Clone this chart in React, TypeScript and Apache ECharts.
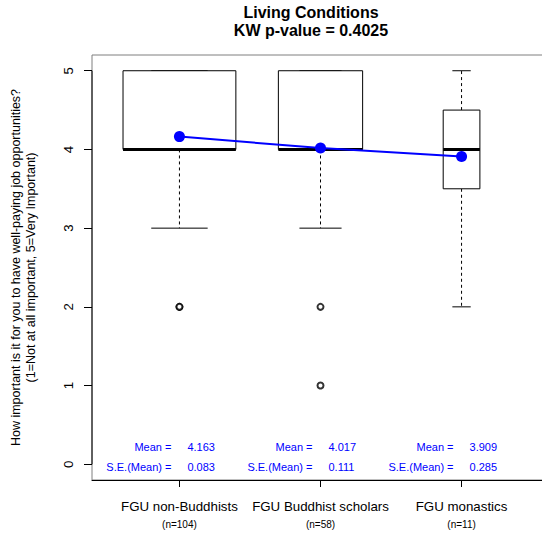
import React, { useEffect, useRef } from "react";
import * as echarts from "echarts";

const categories = ["FGU non-Buddhists", "FGU Buddhist scholars", "FGU monastics"];
const counts = [104, 58, 11];
const lowWhisker = [3, 3, 2];
const q1 = [4, 4, 3.5];
const medians = [4, 4, 4];
const q3 = [5, 5, 4.5];
const highWhisker = [5, 5, 5];
const outliers = [[2, 2], [2, 1], []];
const means = [4.163, 4.017, 3.909];
const seMeans = [0.083, 0.111, 0.285];
const yTicks = [0, 1, 2, 3, 4, 5];
const titleLines = ["Living Conditions", "KW p-value = 0.4025"];
const yTitleLines = [
  "How important is it for you to have well-paying job opportunities?",
  "(1=Not at all important, 5=Very Important)",
];

const FONT = "'Liberation Sans', Arial, Helvetica, sans-serif";
const X_MIN = 0.38;
const X_MAX = 3.62;
const Y_MIN = -0.2;
const Y_MAX = 5.2;

export default function App() {
  const ref = useRef<HTMLDivElement>(null);

  useEffect(() => {
    if (!ref.current) return;
    const chart = echarts.init(ref.current, null, { renderer: "svg" });
    const maxN = Math.max(...counts);

    const boxData = categories.map((_, i) => [
      i + 1,
      counts[i],
      lowWhisker[i],
      q1[i],
      medians[i],
      q3[i],
      highWhisker[i],
    ]);

    const outlierData: number[][] = [];
    outliers.forEach((arr, i) => arr.forEach((v) => outlierData.push([i + 1, v])));

    const option: any = {
      animation: false,
      backgroundColor: "#ffffff",
      title: {
        text: titleLines.join("\n"),
        left: 311,
        top: 3,
        padding: 0,
        textAlign: "center",
        textStyle: {
          fontSize: 16,
          fontWeight: "bold",
          fontFamily: FONT,
          color: "#000",
          lineHeight: 18.5,
        },
      },
      grid: {
        left: 92,
        top: 55,
        width: 457,
        height: 425,
        show: true,
        borderColor: "#7f7f7f",
        borderWidth: 1,
        backgroundColor: "transparent",
      },
      xAxis: {
        type: "value",
        min: X_MIN,
        max: X_MAX,
        splitLine: { show: false },
        axisLine: { show: true, onZero: false, lineStyle: { color: "#000", width: 1 } },
        axisTick: {
          show: true,
          customValues: [1, 2, 3],
          length: 7,
          lineStyle: { color: "#000" },
        },
        axisLabel: {
          customValues: [1, 2, 3],
          margin: 16,
          formatter: (v: number) => {
            const i = Math.round(v) - 1;
            return `{a|${categories[i]}}\n{b|(n=${counts[i]})}`;
          },
          rich: {
            a: { fontSize: 13.3, fontFamily: FONT, color: "#000", lineHeight: 20 },
            b: { fontSize: 10, fontFamily: FONT, color: "#000", lineHeight: 16 },
          },
        },
      },
      yAxis: {
        type: "value",
        min: Y_MIN,
        max: Y_MAX,
        splitLine: { show: false },
        axisLine: { show: false, onZero: false },
        axisTick: {
          show: true,
          customValues: yTicks,
          length: 8,
          lineStyle: { color: "#000" },
        },
        axisLabel: {
          customValues: yTicks,
          rotate: 90,
          margin: 17,
          fontSize: 13.3,
          fontFamily: FONT,
          color: "#000",
        },
        name: yTitleLines.join("\n"),
        nameLocation: "middle",
        nameRotate: 90,
        nameGap: 54,
        nameTextStyle: {
          fontSize: 12.5,
          fontFamily: FONT,
          color: "#000",
          lineHeight: 15,
          align: "center",
        },
      },
      series: [
        {
          type: "custom",
          name: "axisSpan",
          data: [[yTicks[0], yTicks[yTicks.length - 1]]],
          encode: { y: [0, 1] },
          silent: true,
          renderItem: (params: any, api: any) => {
            const a = api.coord([X_MIN, api.value(0)]);
            const b = api.coord([X_MIN, api.value(1)]);
            return {
              type: "line",
              shape: { x1: a[0], y1: a[1], x2: b[0], y2: b[1] },
              style: { stroke: "#000", lineWidth: 1 },
            };
          },
        },
        {
          type: "custom",
          name: "boxes",
          data: boxData,
          encode: { x: 0, y: [2, 3, 4, 5, 6] },
          silent: true,
          renderItem: (params: any, api: any) => {
            const x = api.value(0);
            const n = api.value(1);
            const lo = api.value(2);
            const bq1 = api.value(3);
            const med = api.value(4);
            const bq3 = api.value(5);
            const hi = api.value(6);
            const w = 0.8 * Math.sqrt(n / maxN);
            const pL = api.coord([x - w / 2, bq3]);
            const pR = api.coord([x + w / 2, bq1]);
            const c = (xx: number, yy: number) => api.coord([xx, yy]);
            const children: any[] = [];
            const dash = { stroke: "#000", lineWidth: 1, lineDash: [3, 3] };
            const solid = { stroke: "#000", lineWidth: 1 };
            const wl1 = c(x, bq1);
            const wl2 = c(x, lo);
            children.push({
              type: "line",
              shape: { x1: wl1[0], y1: wl1[1], x2: wl2[0], y2: wl2[1] },
              style: dash,
            });
            const wh1 = c(x, bq3);
            const wh2 = c(x, hi);
            if (hi > bq3) {
              children.push({
                type: "line",
                shape: { x1: wh1[0], y1: wh1[1], x2: wh2[0], y2: wh2[1] },
                style: dash,
              });
            }
            const capL = c(x - w / 4, lo);
            const capR = c(x + w / 4, lo);
            children.push({
              type: "line",
              shape: { x1: capL[0], y1: capL[1], x2: capR[0], y2: capR[1] },
              style: solid,
            });
            const capHL = c(x - w / 4, hi);
            const capHR = c(x + w / 4, hi);
            children.push({
              type: "line",
              shape: { x1: capHL[0], y1: capHL[1], x2: capHR[0], y2: capHR[1] },
              style: solid,
            });
            children.push({
              type: "rect",
              shape: {
                x: pL[0],
                y: pL[1],
                width: pR[0] - pL[0],
                height: pR[1] - pL[1],
              },
              style: { fill: "#fff", stroke: "#000", lineWidth: 1 },
            });
            const m1 = c(x - w / 2, med);
            const m2 = c(x + w / 2, med);
            children.push({
              type: "line",
              shape: { x1: m1[0], y1: m1[1], x2: m2[0], y2: m2[1] },
              style: { stroke: "#000", lineWidth: 3 },
            });
            return { type: "group", children };
          },
        },
        {
          type: "scatter",
          name: "outliers",
          data: outlierData,
          symbol: "emptyCircle",
          symbolSize: 6,
          silent: true,
          itemStyle: { color: "#000", borderColor: "#000", borderWidth: 1 },
        },
        {
          type: "line",
          name: "means",
          data: means.map((m, i) => [i + 1, m]),
          symbol: "circle",
          symbolSize: 11,
          silent: true,
          lineStyle: { color: "#0000ff", width: 2 },
          itemStyle: { color: "#0000ff" },
          z: 5,
        },
        {
          type: "custom",
          name: "meanText",
          data: means.map((m, i) => [i + 1, m, seMeans[i]]),
          encode: { x: 0 },
          silent: true,
          renderItem: (params: any, api: any) => {
            const x = api.value(0);
            const m = api.value(1);
            const se = api.value(2);
            const p = api.coord([x, 0]);
            const base = {
              fill: "#0000ff",
              fontSize: 11,
              fontFamily: FONT,
              verticalAlign: "middle",
            };
            return {
              type: "group",
              children: [
                { type: "text", x: p[0] - 8, y: p[1] - 17, style: { ...base, text: "Mean =", align: "right" } },
                { type: "text", x: p[0] + 8, y: p[1] - 17, style: { ...base, text: m.toFixed(3), align: "left" } },
                { type: "text", x: p[0] - 8, y: p[1] + 2.5, style: { ...base, text: "S.E.(Mean) =", align: "right" } },
                { type: "text", x: p[0] + 8, y: p[1] + 2.5, style: { ...base, text: se.toFixed(3), align: "left" } },
              ],
            };
          },
        },
      ],
    };

    chart.setOption(option);
    return () => chart.dispose();
  }, []);

  return (
    <div
      style={{
        position: "fixed",
        left: 0,
        top: 0,
        width: 542,
        height: 533,
        overflow: "hidden",
        background: "#fff",
      }}
    >
      <div ref={ref} style={{ width: 560, height: 533 }} />
    </div>
  );
}
